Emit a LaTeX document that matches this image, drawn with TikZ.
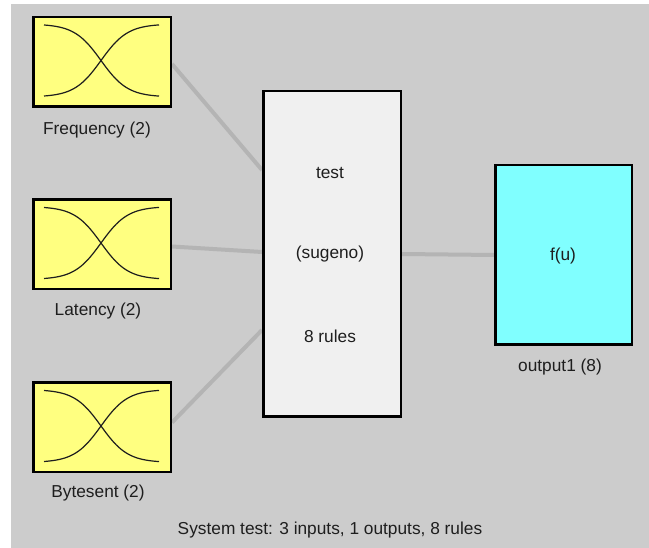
\documentclass[tikz,border=0pt]{standalone}
\usepackage{fontspec}
\setmainfont{Liberation Sans}
\usetikzlibrary{backgrounds}
\definecolor{bggray}{RGB}{204,204,204}
\definecolor{mfyellow}{RGB}{255,255,128}
\definecolor{outcyan}{RGB}{128,255,255}
\definecolor{fisbox}{RGB}{240,240,240}
\definecolor{linegray}{RGB}{180,180,180}
\definecolor{txt}{RGB}{30,30,30}
\begin{document}
\begin{tikzpicture}[x=1pt,y=-1pt,
  box/.style={draw=black,line width=2.5pt,inner sep=0pt,anchor=center},
  mfbox/.style={box,fill=mfyellow,minimum width=137.5pt,minimum height=89.5pt},
  lbl/.style={font=\fontsize{17.3}{20}\selectfont,inner sep=0pt,text=txt},
  conn/.style={draw=linegray,line width=4pt},
  mfcurve/.style={draw=txt,line width=1.2pt}]
\useasboundingbox (0,0) rectangle (649,548);
% input boxes
\node[mfbox] (f) at (102,62) {};
\node[mfbox] (l) at (102,244.5) {};
\node[mfbox] (b) at (102,427.5) {};
\foreach \n in {f,l,b}{
  \begin{scope}[shift={(\n.center)}]
    \draw[mfcurve] plot[domain=-58:57,samples=60,smooth] ({\x},{-38+73/(1+exp(-0.075*(\x+1)))});
    \draw[mfcurve] plot[domain=-58:57,samples=60,smooth] ({\x},{35-73/(1+exp(-0.075*(\x+1)))});
  \end{scope}
}
\node[lbl] (fl) at (97,130) {Frequency (2)};
\node[lbl] (ll) at (98,311) {Latency (2)};
\node[lbl] (bl) at (98,493) {Bytesent (2)};
% center box
\node[box,fill=fisbox,minimum width=137.5pt,minimum height=325.5pt] (c) at (332,254) {};
\node[lbl] (ct) at (330,173) {test};
\node[lbl] (cs) at (330,254) {(sugeno)};
\node[lbl] (cr) at (330,336) {8 rules};
% output box
\node[box,fill=outcyan,minimum width=136.5pt,minimum height=179.5pt] (o) at (563.5,255) {};
\node[lbl] (of) at (563,256) {f(u)};
\node[lbl] (ol) at (560,367) {output1 (8)};
% caption
\node[lbl] (cap) at (330,530) {System test: 3 inputs, 1 outputs, 8 rules};
\begin{pgfonlayer}{background}
  \fill[white] (0,0) rectangle (649,548);
  \fill[bggray] (11,4) rectangle (649,548);
  \draw[conn] ([yshift=-2pt]f.east) -- ([yshift=84pt]c.west);
  \draw[conn] ([yshift=-2pt]l.east) -- ([yshift=2pt]c.west);
  \draw[conn] ([yshift=5pt]b.east) -- ([yshift=-76pt]c.west);
  \draw[conn] (c.east) -- (o.west);
\end{pgfonlayer}
\end{tikzpicture}
\end{document}
